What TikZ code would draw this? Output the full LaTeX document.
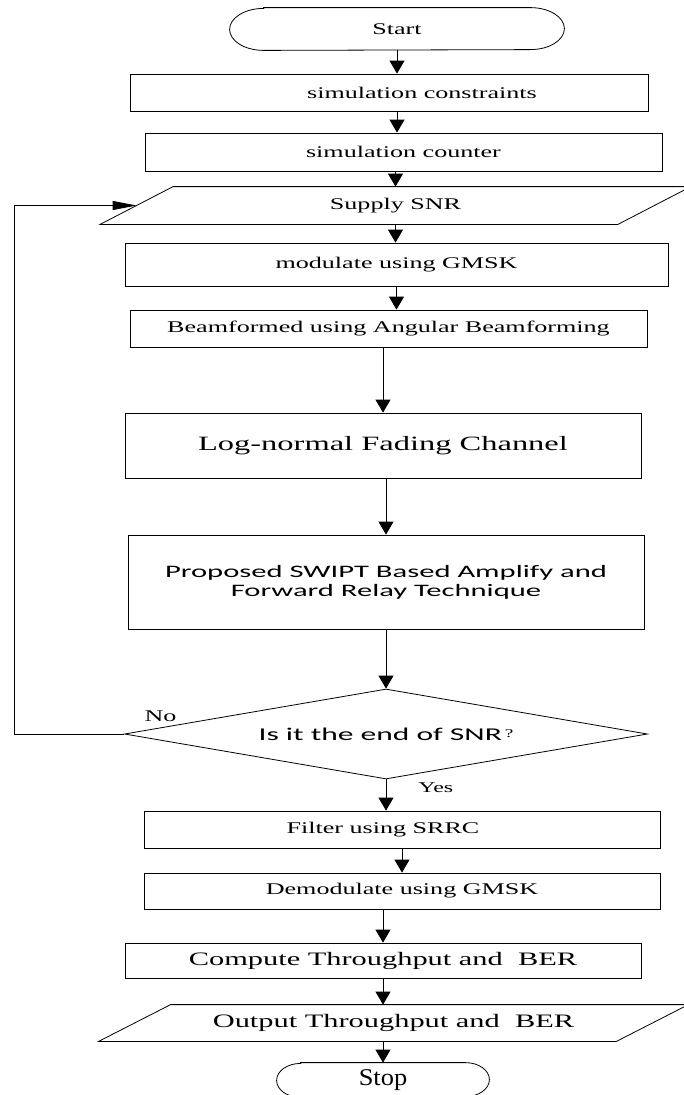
\documentclass[tikz,border=0pt]{standalone}
\usepackage{fontspec}
\usetikzlibrary{shapes.geometric, arrows.meta, calc}
\newfontfamily\wideserif{Liberation Serif}[FakeStretch=1.6]
\newfontfamily\narrowserif{Liberation Serif}[FakeStretch=1.1]
\newfontfamily\widesans{Carlito}[FakeStretch=1.75]

\begin{document}
\begin{tikzpicture}[
    x=1pt, y=-1pt,
    line width=0.8pt,
    every node/.style={align=center},
    txt/.style={font=\wideserif\fontsize{16.3}{19}\selectfont},
    process/.style={rectangle, draw, txt, minimum width=517pt,
                    minimum height=37pt, inner sep=0pt},
    io/.style={rectangle, txt, minimum width=517pt, minimum height=37pt,
               inner sep=0pt},
    terminal/.style={rectangle, txt, inner sep=0pt},
    decision/.style={diamond, draw, aspect=5.8, minimum width=523pt,
                     minimum height=90pt, inner sep=0pt,
                     font=\widesans\fontsize{18}{20}\selectfont},
    lbl/.style={txt, inner sep=0pt},
    arr/.style={-{Triangle[length=13pt, width=15pt]}},
    looparr/.style={-{Triangle[length=24pt, width=9pt]}}
  ]

  \useasboundingbox (0,0) rectangle (683,1095);

  \node[terminal, minimum width=334pt, minimum height=42pt] (start) at (397,29) {Start};
  \node[process, minimum width=518pt] (constr) at (389,92.5) {\hspace*{66pt}simulation constraints};
  \node[process, minimum height=38pt] (counter) at (403.5,152) {simulation counter};
  \node[io] (supply) at (395.5,205.5) {Supply SNR};
  \node[process, minimum width=543pt, minimum height=43pt] (modul) at (396.5,264.5) {modulate using GMSK};
  \node[process] (beam) at (388.5,328.5) {Beamformed using Angular Beamforming};
  \node[process, minimum width=516pt, minimum height=65pt,
        font=\wideserif\fontsize{20.3}{23}\selectfont] (channel) at (383,445.5) {Log-normal Fading Channel};
  \node[process, minimum width=516pt, minimum height=94pt,
        font=\widesans\fontsize{17.5}{19}\selectfont] (relay) at (386,582)
        {Proposed SWIPT Based Amplify and\\Forward Relay Technique};
  \node[decision] (endsnr) at (386,734)
        {Is it the end of SNR\,\raisebox{3pt}{\wideserif\fontsize{12}{12}\selectfont ?}};
  \node[process, minimum width=516pt] (filter) at (402,829.5) {Filter using SRRC\hspace*{38pt}};
  \node[process, minimum width=516pt, minimum height=36pt] (demod) at (402,891) {Demodulate using GMSK};
  \node[process, minimum width=516pt, minimum height=35pt,
        font=\wideserif\fontsize{19}{22}\selectfont] (compute) at (383,960.5) {Compute Throughput and~ BER};
  \node[io, minimum height=36pt,
        font=\wideserif\fontsize{19}{22}\selectfont] (output) at (393.5,1023) {Output Throughput and~ BER};
  \node[terminal, minimum width=212pt, minimum height=34pt,
        font=\narrowserif\fontsize{24}{26}\selectfont] (stop) at (383,1080) {Stop};

  % terminal outlines with flat elliptic ends
  \foreach \n/\rx/\ry in {start/34/21, stop/24/17}
    \draw ([xshift=\rx pt]\n.north west) -- ([xshift=-\rx pt]\n.north east)
          arc[start angle=90, end angle=-90, x radius=\rx pt, y radius=\ry pt]
          -- ([xshift=\rx pt]\n.south west)
          arc[start angle=270, end angle=90, x radius=\rx pt, y radius=\ry pt] -- cycle;

  % input / output parallelograms
  \foreach \n/\s in {supply/36.5, output/36}
    \draw ([xshift=\s pt]\n.north west) -- ([xshift=\s pt]\n.north east)
          -- ([xshift=-\s pt]\n.south east) -- ([xshift=-\s pt]\n.south west) -- cycle;

  % Main flow arrows
  \draw[arr] (start.south) -- (start.south |- constr.north);
  \draw[arr] (start.south |- constr.south) -- (start.south |- counter.north);
  \draw[arr] (supply.north |- counter.south) -- (supply.north);
  \draw[arr] (supply.south) -- (supply.south |- modul.north);
  \draw[arr] (modul.south) -- (modul.south |- beam.north);
  \draw[arr] (channel.north |- beam.south) -- (channel.north);
  \draw[arr] (relay.north |- channel.south) -- (relay.north);
  \draw[arr] (relay.south) -- (endsnr.north);
  \draw[arr] (endsnr.south) -- node[lbl, pos=0.25, right=32pt,
        font=\wideserif\fontsize{15}{17}\selectfont] {Yes} (endsnr.south |- filter.north);
  \draw[arr] (filter.south) -- (filter.south |- demod.north);
  \draw[arr] (compute.north |- demod.south) -- (compute.north);
  \draw[arr] (compute.south) -- (compute.south |- output.north);
  \draw[arr] (stop.north |- output.south) -- (stop.north);

  % Loop back to the SNR input
  \coordinate (loopx) at (14,0);
  \draw[looparr] (endsnr.west) -- (endsnr.west -| loopx) |- (supply.west);
  \node[lbl, anchor=base west] (no) at ([xshift=20pt, yshift=12.5pt]endsnr.west) {No};

\end{tikzpicture}
\end{document}
